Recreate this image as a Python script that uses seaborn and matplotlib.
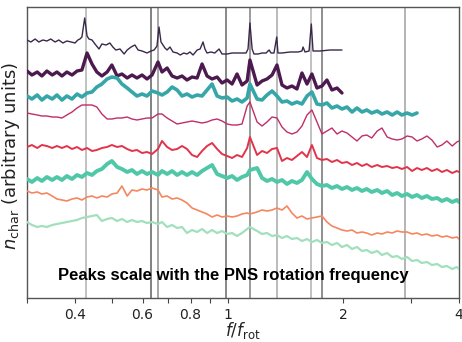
import matplotlib
matplotlib.use("Agg")
import matplotlib.pyplot as plt
import seaborn as sns
import pandas as pd

# frequency grid (f / f_rot)
freq_grid = [0.300, 0.309, 0.319, 0.328, 0.338, 0.349, 0.359, 0.370, 0.381, 0.393,
             0.405, 0.417, 0.430, 0.443, 0.456, 0.470, 0.485, 0.499, 0.515, 0.530,
             0.547, 0.563, 0.580, 0.598, 0.616, 0.635, 0.658, 0.674, 0.695, 0.716,
             0.738, 0.760, 0.783, 0.807, 0.832, 0.857, 0.883, 0.910, 0.938, 0.966,
             0.996, 1.026, 1.057, 1.089, 1.123, 1.142, 1.192, 1.228, 1.265, 1.304,
             1.343, 1.384, 1.426, 1.469, 1.514, 1.560, 1.608, 1.656, 1.707, 1.759,
             1.812, 1.867, 1.925, 1.983, 2.044, 2.106, 2.170, 2.236, 2.30, 2.37,
             2.45, 2.52, 2.60, 2.68, 2.76, 2.84, 2.93, 3.02, 3.11, 3.20,
             3.30, 3.40, 3.51, 3.61, 3.72, 3.84, 3.95, 4.00]

# top trace (sharp peaks) has its own sampling
s1_freq = [0.300, 0.307, 0.315, 0.322, 0.330, 0.338, 0.346, 0.355, 0.363, 0.372,
           0.381, 0.391, 0.400, 0.407, 0.412, 0.417, 0.424, 0.430, 0.435, 0.443,
           0.451, 0.462, 0.470, 0.482, 0.493, 0.502, 0.511, 0.524, 0.537, 0.547,
           0.560, 0.573, 0.584, 0.598, 0.616, 0.631, 0.643, 0.654, 0.662, 0.670,
           0.678, 0.686, 0.695, 0.707, 0.720, 0.738, 0.752, 0.768, 0.783, 0.797,
           0.812, 0.832, 0.847, 0.862, 0.872, 0.883, 0.904, 0.925, 0.949, 0.966,
           0.996, 1.026, 1.057, 1.089, 1.116, 1.129, 1.142, 1.157, 1.170, 1.199,
           1.228, 1.258, 1.281, 1.296, 1.319, 1.341, 1.351, 1.384, 1.452, 1.524,
           1.560, 1.570, 1.589, 1.628, 1.650, 1.667, 1.738, 1.846, 1.983]
s1_vals = [258, 256, 259, 256, 258, 257, 259, 256, 258, 255,
           257, 256, 255, 258, 259, 261, 280, 262, 259, 258,
           254, 249, 254, 253, 255, 251, 248, 249, 244, 248,
           251, 253, 248, 247, 245, 247, 248, 252, 271, 256,
           253, 250, 248, 251, 246, 245, 243, 245, 244, 246,
           243, 248, 249, 256, 249, 245, 246, 245, 249, 244,
           244, 245, 245, 245, 245, 249, 275, 249, 244, 244,
           245, 245, 248, 245, 245, 261, 245, 245, 246, 246,
           247, 251, 246, 247, 274, 247, 247, 248, 248]

s2_vals = [227, 223, 226, 222, 227, 223, 226, 222, 226, 223,
           227, 228, 245, 234, 226, 222, 226, 233, 222, 224,
           220, 223, 220, 223, 219, 223, 236, 226, 230, 222,
           220, 222, 218, 221, 220, 234, 222, 219, 221, 215,
           218, 214, 224, 213, 217, 238, 213, 217, 219, 223,
           233, 213, 210, 212, 209, 225, 214, 224, 210, 212,
           218, 208, 210, 205]

s3_vals = [202, 199, 203, 198, 202, 199, 203, 198, 202, 199,
           204, 201, 205, 206, 211, 214, 219, 221, 220, 214,
           210, 206, 202, 204, 202, 207, 205, 203, 206, 211,
           208, 202, 204, 201, 203, 202, 208, 214, 202, 200,
           201, 197, 199, 196, 200, 214, 199, 198, 203, 207,
           202, 196, 197, 194, 196, 194, 202, 206, 194, 193,
           195, 190, 192, 189, 191, 186, 190, 186, 188, 185,
           187, 184, 186, 183, 186, 183, 185, 183, 185]

s4_vals = [185, 184, 183, 182, 182, 181, 181, 180, 183, 186,
           190, 193, 193, 193, 191, 184, 179, 179, 180, 180,
           181, 179, 178, 179, 180, 180, 184, 184, 180, 177,
           174, 175, 176, 177, 176, 175, 176, 178, 179, 177,
           174, 173, 173, 174, 192, 196, 176, 172, 176, 181,
           180, 171, 166, 164, 166, 172, 183, 188, 176, 164,
           167, 170, 164, 167, 165, 161, 157, 162, 163, 160,
           167, 170, 161, 159, 158, 159, 162, 161, 157, 159,
           162, 158, 151, 153, 157, 152, 156, 157]

s5_vals = [151, 153, 150, 153, 152, 150, 152, 150, 152, 149,
           151, 148, 150, 147, 148, 150, 151, 153, 151, 152,
           149, 147, 148, 145, 146, 144, 149, 157, 151, 148,
           149, 152, 149, 143, 141, 147, 152, 155, 149, 144,
           142, 140, 143, 141, 150, 161, 143, 147, 145, 149,
           150, 137, 140, 138, 142, 146, 141, 153, 140, 138,
           139, 136, 138, 135, 136, 133, 135, 132, 134, 131,
           133, 131, 132, 130, 131, 129, 131, 127, 130, 128,
           130, 127, 129, 126, 128, 125, 127, 126]

s6_vals = [119, 116, 120, 117, 121, 118, 121, 118, 122, 119,
           123, 121, 125, 123, 127, 129, 134, 137, 131, 129,
           126, 128, 124, 127, 124, 126, 123, 127, 124, 127,
           123, 126, 123, 126, 123, 127, 130, 133, 124, 122,
           120, 122, 118, 121, 123, 128, 130, 120, 117, 119,
           116, 118, 114, 117, 115, 118, 126, 119, 114, 112,
           113, 110, 112, 109, 111, 108, 110, 107, 109, 106,
           108, 105, 107, 103, 105, 102, 104, 101, 103, 100,
           102, 99, 100, 97, 99, 96, 98, 96]

s7_vals = [107, 105, 106, 104, 105, 102, 99, 98, 97, 99,
           100, 98, 101, 102, 100, 102, 101, 104, 105, 112,
           102, 108, 107, 109, 108, 110, 108, 101, 102, 99,
           100, 98, 95, 90, 88, 86, 84, 81, 83, 81,
           82, 81, 82, 84, 85, 84, 86, 88, 87, 88,
           90, 88, 92, 85, 80, 82, 79, 80, 81, 82,
           76, 72, 70, 68, 67, 68, 65, 66, 65, 63,
           65, 64, 66, 65, 67, 66, 66, 64, 65, 63,
           64, 62, 63, 61, 62, 60, 61, 59]

s8_vals = [76, 73, 71, 72, 71, 73, 74, 75, 76, 77,
           78, 80, 81, 82, 83, 77, 79, 80, 77, 79,
           76, 78, 76, 77, 75, 76, 74, 76, 71, 73,
           70, 71, 65, 68, 66, 69, 65, 68, 65, 67,
           64, 65, 62, 65, 69, 71, 67, 64, 65, 62,
           63, 60, 62, 59, 60, 57, 59, 56, 58, 55,
           56, 53, 55, 51, 53, 49, 51, 47, 48, 45,
           47, 43, 45, 41, 42, 39, 41, 37, 38, 35,
           36, 33, 34, 31, 32, 29, 31, 29]

series_colors = ["#3a2849", "#4d1a4f", "#37a6a9", "#bf2e68",
                 "#e2334a", "#50c8a8", "#f5875f", "#a2e0bd"]
series_widths = [1.0, 2.4, 2.6, 1.0, 1.4, 2.8, 1.2, 1.6]

vline_freqs = [0.428, 0.631, 0.659, 0.988, 1.143, 1.341, 1.650, 1.763, 2.89]
vline_colors = ["#b0b0b0", "#606060", "#909090", "#686868", "#808080",
                "#a8a8a8", "#b0b0b0", "#707070", "#a0a0a0"]

xticks_major = [0.4, 0.6, 0.8, 1, 2, 4]
xticks_major_labels = ["0.4", "0.6", "0.8", "1", "2", "4"]
xticks_minor = [0.3, 0.5, 0.7, 0.9, 3]

sns.set_style("white")

fig = plt.figure(figsize=(4.62, 3.42), dpi=100)
ax = fig.add_axes([27 / 462, 44 / 342, 432 / 462, 291 / 342])

for xv, c in zip(vline_freqs, vline_colors):
    ax.axvline(xv, color=c, lw=1.1, zorder=1)

traces = [(s1_freq, s1_vals)]
for vals in [s2_vals, s3_vals, s4_vals, s5_vals, s6_vals, s7_vals, s8_vals]:
    traces.append((freq_grid[:len(vals)], vals))

for i, (fx, fy) in enumerate(traces):
    df = pd.DataFrame({"f": fx, "n": fy})
    sns.lineplot(data=df, x="f", y="n", ax=ax, color=series_colors[i],
                 lw=series_widths[i], sort=False, estimator=None, zorder=3)

ax.set_xscale("log")
ax.set_xlim(0.3, 4)
ax.set_ylim(0, 291)
ax.set_xticks(xticks_major)
ax.set_xticklabels(xticks_major_labels)
ax.set_xticks(xticks_minor, minor=True)
ax.set_xticklabels([], minor=True)
ax.set_yticks([])
ax.tick_params(axis="x", which="both", direction="out", length=3.5, width=0.8,
               color="#444444", labelsize=10, labelcolor="#222222", bottom=True)

for s in ax.spines.values():
    s.set_color("#555555")
    s.set_linewidth(1.0)

ax.set_xlabel(r"$f/f_{\rm rot}$", fontsize=12, color="#222222")
ax.set_ylabel(r"$n_{\rm char}$ (arbitrary units)", fontsize=13, color="#222222")
ax.yaxis.set_label_coords(-0.012, 0.49)
ax.xaxis.set_label_coords(0.5, -0.077)

ax.text(0.477, 0.079, "Peaks scale with the PNS rotation frequency",
        transform=ax.transAxes, ha="center", va="center", fontsize=12,
        fontweight="bold", family=["Liberation Sans", "DejaVu Sans"], color="black",
        zorder=5)

fig.savefig("out.png", dpi=100)
